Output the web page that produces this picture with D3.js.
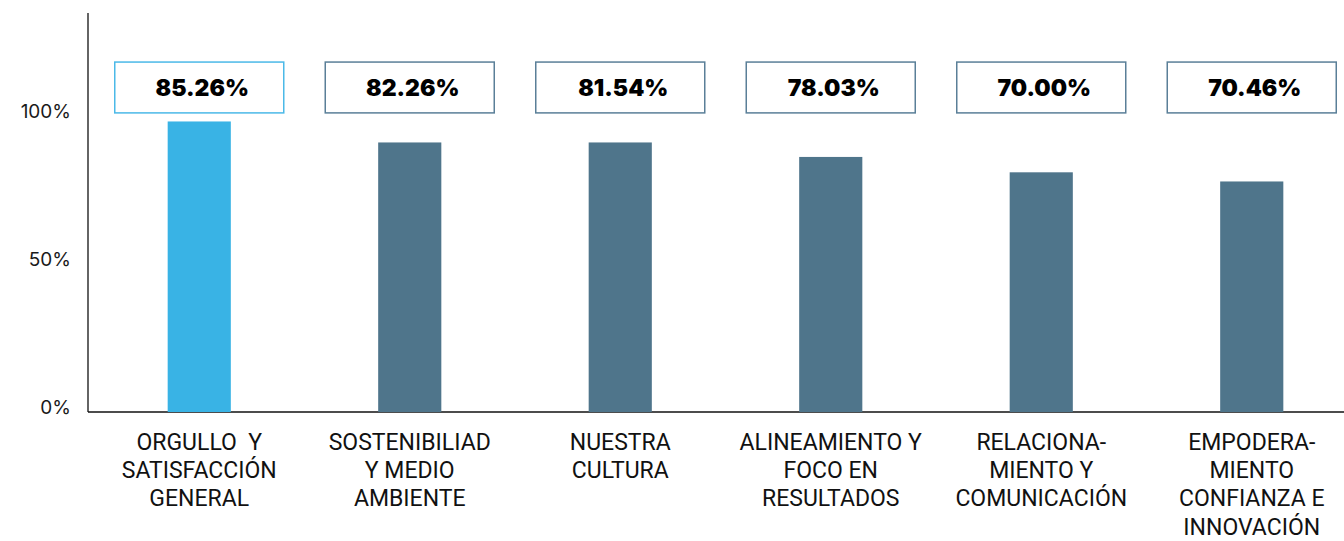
<!DOCTYPE html>
<html>
<head>
<meta charset="utf-8">
<script src="https://cdn.jsdelivr.net/npm/d3@7"></script>
<style>
  html, body { margin: 0; padding: 0; background: #ffffff; }
  svg { display: block; }
</style>
</head>
<body>
<svg id="chart" width="1344" height="541"></svg>
<script>
// ---- data ----
const categories = [
  ["ORGULLO  Y", "SATISFACCIÓN", "GENERAL"],
  ["SOSTENIBILIAD", "Y MEDIO", "AMBIENTE"],
  ["NUESTRA", "CULTURA"],
  ["ALINEAMIENTO Y", "FOCO EN", "RESULTADOS"],
  ["RELACIONA-", "MIENTO Y", "COMUNICACIÓN"],
  ["EMPODERA-", "MIENTO", "CONFIANZA E", "INNOVACIÓN"]
];
const barValues = [98.3, 91.2, 91.2, 86.3, 81.1, 78.0];
const valueLabels = ["85.26%", "82.26%", "81.54%", "78.03%", "70.00%", "70.46%"];
const yTicks = [0, 50, 100];

// ---- layout ----
const svg = d3.select("#chart");
const highlight = "#39b3e5";
const base = "#4f758b";
const boxStroke = ["#4bb9e8", "#5a7f98"];

const ids = categories.map((_, i) => i);
const x = d3.scaleBand().domain(ids).range([94, 1357]).paddingInner(0.7).paddingOuter(0.35);
const y = d3.scaleLinear().domain([0, 135]).range([412, 13]);

// y axis line
svg.append("line").attr("x1", 88).attr("x2", 88).attr("y1", y(135)).attr("y2", y(0))
  .attr("stroke", "#111").attr("stroke-width", 1.3);
// x axis line
svg.append("line").attr("x1", 88).attr("x2", 1344).attr("y1", y(0)).attr("y2", y(0))
  .attr("stroke", "#111").attr("stroke-width", 1.3);

// y tick labels
svg.append("g").selectAll("text").data(yTicks).join("text")
  .attr("x", 71).attr("y", d => y(d) - 5)
  .attr("dy", "0.36em")
  .attr("text-anchor", "end")
  .attr("font-family", "Inter, 'Noto Sans', sans-serif")
  .attr("font-size", 19)
  .attr("font-weight", 400)
  .attr("fill", "#1a1a1a")
  .text(d => d + "%");

// bars
svg.append("g").selectAll("rect").data(barValues).join("rect")
  .attr("x", (d, i) => x(i))
  .attr("width", x.bandwidth())
  .attr("y", d => y(d))
  .attr("height", d => y(0) - y(d))
  .attr("fill", (d, i) => i === 0 ? highlight : base);

// value boxes
const boxTop = y(118.4), boxBottom = y(101.2);
const boxW = 169;
const boxes = svg.append("g").selectAll("g").data(valueLabels).join("g")
  .attr("transform", (d, i) => `translate(${x(i) + x.bandwidth() / 2},0)`);
boxes.append("rect")
  .attr("x", -boxW / 2).attr("width", boxW)
  .attr("y", boxTop).attr("height", boxBottom - boxTop)
  .attr("fill", "#fff")
  .attr("stroke", (d, i) => i === 0 ? boxStroke[0] : boxStroke[1])
  .attr("stroke-width", 1.5);
boxes.append("text")
  .attr("x", 3).attr("y", 96)
  .attr("text-anchor", "middle")
  .attr("font-family", "Inter, 'DejaVu Sans', sans-serif")
  .attr("font-size", 23)
  .attr("font-weight", 900)
  .attr("fill", "#000")
  .text(d => d);

// category labels
const cat = svg.append("g").selectAll("text").data(categories).join("text")
  .attr("text-anchor", "middle")
  .attr("font-family", "Roboto, 'Liberation Sans', sans-serif")
  .attr("font-size", 23)
  .attr("fill", "#111")
  .attr("transform", (d, i) => `translate(${x(i) + x.bandwidth() / 2},0)`);
cat.selectAll("tspan").data(d => d).join("tspan")
  .attr("x", 0)
  .attr("y", (d, j) => 450 + j * 28.2)
  .attr("xml:space", "preserve")
  .style("white-space", "pre")
  .text(d => d);
</script>
</body>
</html>
